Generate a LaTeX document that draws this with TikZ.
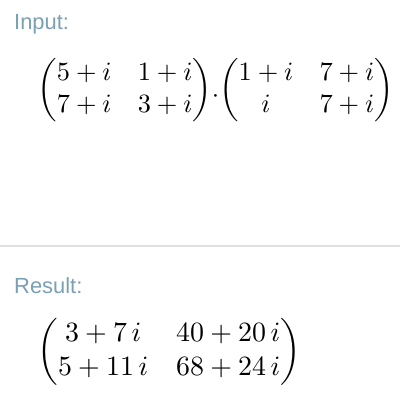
\documentclass[tikz,border=0pt]{standalone}
\usepackage{amsmath}
\usepackage{fontspec}
\setsansfont{Liberation Sans}
\definecolor{lab}{HTML}{7AA0B6}
\definecolor{sepc}{HTML}{E0E0E0}
\newcommand{\lowdot}{\mathord{\lower2.3pt\hbox{$\cdot$}}}
\begin{document}
\begin{tikzpicture}[x=1bp,y=1bp,
  lbl/.style={font=\sffamily\fontsize{22}{26}\selectfont, text=lab, anchor=base west, inner sep=0},
  mat/.style={inner sep=0, anchor=west}]
\fill[white] (0,0) rectangle (400,-404);
\useasboundingbox (0,0) rectangle (400,-404);
\node[lbl] (inlab) at (14,-29) {Input:};
\node[mat, scale=2.65] (inmat) at (37,-90) {$\begin{pmatrix}5+i & 1+i\\ 7+i & 3+i\end{pmatrix}\!\lowdot\!\begin{pmatrix}1+i & 7+i\\ i & 7+i\end{pmatrix}$};
\coordinate (sl) at (0,-246);
\coordinate (sr) at (400,-246);
\draw[sepc, line width=1.5] (sl) -- (sr);
\node[lbl] (reslab) at (14,-293) {Result:};
\node[mat, scale=2.8] (resmat) at (37,-352) {$\begin{pmatrix}3+7\,i & 40+20\,i\\ 5+11\,i & 68+24\,i\end{pmatrix}$};
\end{tikzpicture}
\end{document}
